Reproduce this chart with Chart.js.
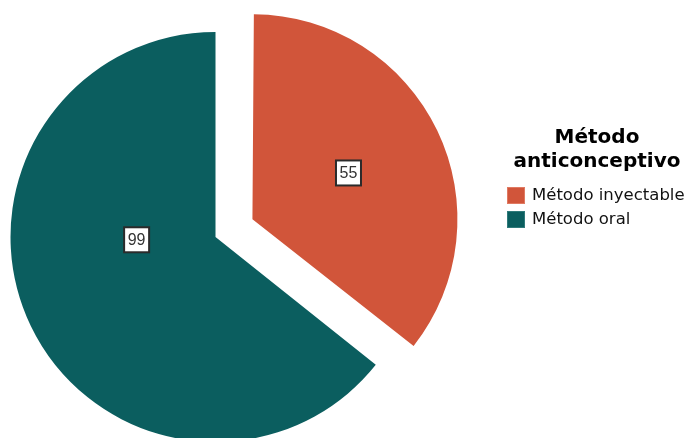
<!DOCTYPE html>
<html>
<head>
<meta charset="utf-8">
<script src="https://cdn.jsdelivr.net/npm/chart.js@4/dist/chart.umd.min.js"></script>
<style>
  html, body { margin: 0; padding: 0; background: #fff; }
  #wrap { position: relative; width: 689px; height: 438px; overflow: hidden; }
  #legend { position: absolute; left: 497px; top: 124px; width: 200px; font-family: "DejaVu Sans", sans-serif; color: #000; }
  #legend .title { font-weight: bold; font-size: 20px; line-height: 24px; text-align: center; }
  #legend .items { position: absolute; left: 10px; top: 59px; }
  #legend .item { height: 24px; line-height: 24px; font-size: 16.5px; white-space: nowrap; position: relative; padding-left: 25px; color: #111; }
  #legend .sw { position: absolute; left: 0; top: 4px; width: 18px; height: 17px; box-sizing: border-box; }
</style>
</head>
<body>
<div id="wrap">
  <canvas id="pie" width="689" height="438"></canvas>
  <div id="legend"></div>
</div>
<script>
// --- Data ---
const categories = ['Método inyectable', 'Método oral'];
const counts = [55, 99];
const legendTitle = ['Método', 'anticonceptivo'];

// --- Style ---
const sliceColors = ['#d1553a', '#0b5e5f'];
const sliceBorders = ['#e07a62', '#2f7a7a'];
const explode = [164, 0];
// label placement: angle shift from slice mid (deg), fraction of radius from pie centre
const labelShift = [0, 23.7];
const labelRadius = [0.72, 0.385];

// Chart.js v4 grows an offset arc's radius a bit; pull it back so both slices match
const keepRadius = {
    id: 'keepRadius',
    afterDatasetsUpdate(chart) {
        chart.getDatasetMeta(0).data.forEach((arc, i) => {
            const fix = 1 - Math.sin(Math.min(Math.PI, arc.circumference));
            arc.outerRadius -= (explode[i] / 4) * fix;
        });
    }
};

// --- Value boxes drawn on the slices ---
const valueBoxes = {
    id: 'valueBoxes',
    afterDatasetsDraw(chart) {
        const ctx = chart.ctx;
        const meta = chart.getDatasetMeta(0);
        const R = meta.controller.outerRadius;
        ctx.save();
        ctx.font = '16px "Liberation Sans", Arial, sans-serif';
        ctx.textAlign = 'center';
        ctx.textBaseline = 'middle';
        meta.data.forEach((arc, i) => {
            const a = (arc.startAngle + arc.endAngle) / 2 + labelShift[i] * Math.PI / 180;
            const r = R * labelRadius[i];
            const cx = arc.x + Math.cos(a) * r;
            const cy = arc.y + Math.sin(a) * r;
            ctx.fillStyle = '#fff';
            ctx.fillRect(cx - 12.5, cy - 12.5, 25, 25);
            ctx.strokeStyle = '#2b2b2b';
            ctx.lineWidth = 2;
            ctx.strokeRect(cx - 12.5, cy - 12.5, 25, 25);
            ctx.fillStyle = '#333';
            ctx.fillText(String(counts[i]), cx, cy + 1);
        });
        ctx.restore();
    }
};

new Chart(document.getElementById('pie').getContext('2d'), {
    type: 'pie',
    data: {
        labels: categories,
        datasets: [{
            data: counts,
            backgroundColor: sliceColors,
            borderWidth: 0,
            offset: explode
        }]
    },
    options: {
        responsive: false,
        animation: false,
        radius: 205,
        layout: { padding: { left: 0, right: 258, top: 36, bottom: 0 } },
        plugins: {
            legend: { display: false },
            tooltip: { enabled: false }
        },
        events: []
    },
    plugins: [keepRadius, valueBoxes]
});

// --- Legend ---
const legendEl = document.getElementById('legend');
const titleEl = document.createElement('div');
titleEl.className = 'title';
titleEl.innerHTML = legendTitle.join('<br>');
legendEl.appendChild(titleEl);
const itemsEl = document.createElement('div');
itemsEl.className = 'items';
categories.forEach((name, i) => {
    const row = document.createElement('div');
    row.className = 'item';
    const sw = document.createElement('span');
    sw.className = 'sw';
    sw.style.background = sliceColors[i];
    sw.style.border = '1px solid ' + sliceBorders[i];
    row.appendChild(sw);
    row.appendChild(document.createTextNode(name));
    itemsEl.appendChild(row);
});
legendEl.appendChild(itemsEl);
</script>
</body>
</html>
